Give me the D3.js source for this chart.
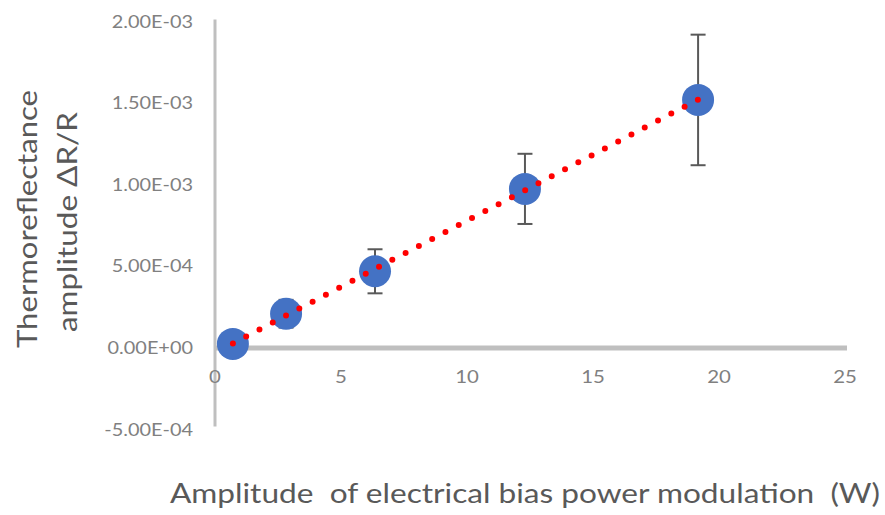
<!DOCTYPE html>
<html>
<head>
<meta charset="utf-8">
<script src="https://cdn.jsdelivr.net/npm/d3@7"></script>
<style>
  html, body { margin: 0; padding: 0; background: #ffffff; }
  svg { display: block; }
  text { font-family: Lato, "Open Sans", sans-serif; }
</style>
</head>
<body>
<svg id="chart" width="885" height="515"></svg>
<script>
// Bias power modulation amplitude (W)
const power = [0.71, 2.82, 6.35, 12.3, 19.17];
// Thermoreflectance amplitude ΔR/R
const amplitude = [2.5e-5, 2.1e-4, 4.7e-4, 9.75e-4, 1.52e-3];
// Error bar half-widths
const errors = [1.0e-5, 8.5e-5, 1.35e-4, 2.15e-4, 4.0e-4];

const xTicks = [0, 5, 10, 15, 20, 25];
const yTicks = [-5e-4, 0, 5e-4, 1e-3, 1.5e-3, 2e-3];
const yTickLabels = ["-5.00E-04", "0.00E+00", "5.00E-04", "1.00E-03", "1.50E-03", "2.00E-03"];

const xTitle = "Amplitude  of electrical bias power modulation  (W)";
const yTitleLines = ["Thermoreflectance", "amplitude ΔR/R"];

const svg = d3.select("#chart");

const x = d3.scaleLinear().domain([0, 25]).range([215, 845]);
const y = d3.scaleLinear().domain([-5e-4, 2e-3]).range([429.6, 21.6]);

// Widen a text element's glyphs by a factor, keeping its anchor
function widen(sel, factor) {
  sel.each(function () {
    const w = this.getComputedTextLength();
    d3.select(this).attr("textLength", w * factor).attr("lengthAdjust", "spacingAndGlyphs");
  });
}

// Y axis line
svg.append("line")
  .attr("x1", x(0)).attr("x2", x(0))
  .attr("y1", y(2e-3) - 2).attr("y2", y(-5e-4) - 3)
  .attr("stroke", "#bfbfbf").attr("stroke-width", 3);

// Y tick labels
svg.append("g").selectAll("text")
  .data(yTicks)
  .join("text")
  .attr("x", 193)
  .attr("y", d => y(d))
  .attr("dy", "0.35em")
  .attr("text-anchor", "end")
  .attr("fill", "#808080")
  .attr("font-size", 17)
  .text((d, i) => yTickLabels[i])
  .call(widen, 1.17);

// X axis line at zero
svg.append("line")
  .attr("x1", x(0)).attr("x2", x(25) + 2)
  .attr("y1", y(0)).attr("y2", y(0))
  .attr("stroke", "#bfbfbf").attr("stroke-width", 5);

// X tick labels
svg.append("g").selectAll("text")
  .data(xTicks)
  .join("text")
  .attr("x", d => x(d))
  .attr("y", 377)
  .attr("dy", "0.35em")
  .attr("text-anchor", "middle")
  .attr("fill", "#808080")
  .attr("font-size", 17)
  .text(d => d)
  .call(widen, 1.2);

const pts = power.map((p, i) => ({ x: p, y: amplitude[i], e: errors[i] }));

// Error bars
const eb = svg.append("g").attr("stroke", "#595959").attr("stroke-width", 2);
pts.forEach(d => {
  eb.append("line").attr("x1", x(d.x)).attr("x2", x(d.x))
    .attr("y1", y(d.y + d.e)).attr("y2", y(d.y - d.e));
  [d.y + d.e, d.y - d.e].forEach(v => {
    eb.append("line").attr("x1", x(d.x) - 7.5).attr("x2", x(d.x) + 7.5)
      .attr("y1", y(v)).attr("y2", y(v));
  });
});

// Markers
svg.append("g").selectAll("circle")
  .data(pts)
  .join("circle")
  .attr("cx", d => x(d.x))
  .attr("cy", d => y(d.y))
  .attr("r", 16)
  .attr("fill", "#4472c4");

// Linear trendline (least squares)
const mx = d3.mean(power), my = d3.mean(amplitude);
const slope = d3.sum(power, (p, i) => (p - mx) * (amplitude[i] - my)) /
              d3.sum(power, p => (p - mx) * (p - mx));
const intercept = my - slope * mx;
const x0 = d3.min(power), x1 = d3.max(power);
svg.append("line")
  .attr("x1", x(x0)).attr("y1", y(intercept + slope * x0))
  .attr("x2", x(x1)).attr("y2", y(intercept + slope * x1))
  .attr("stroke", "#ff0000")
  .attr("stroke-width", 6)
  .attr("stroke-linecap", "round")
  .attr("stroke-dasharray", "0 15");

// Axis titles
svg.append("text")
  .attr("x", 170)
  .attr("y", 503)
  .attr("fill", "#595959")
  .attr("font-size", 27)
  .style("white-space", "pre")
  .attr("textLength", 710)
  .attr("lengthAdjust", "spacingAndGlyphs")
  .text(xTitle);

const yTitleLayout = [
  { base: 37, center: 219, length: 258 },
  { base: 77, center: 222, length: 220 }
];
yTitleLines.forEach((line, i) => {
  const L = yTitleLayout[i];
  svg.append("text")
    .attr("transform", `translate(${L.base},${L.center}) rotate(-90)`)
    .attr("x", -L.length / 2)
    .attr("y", 0)
    .attr("fill", "#595959")
    .attr("font-size", 27)
    .attr("textLength", L.length)
    .attr("lengthAdjust", "spacingAndGlyphs")
    .text(line);
});
</script>
</body>
</html>
